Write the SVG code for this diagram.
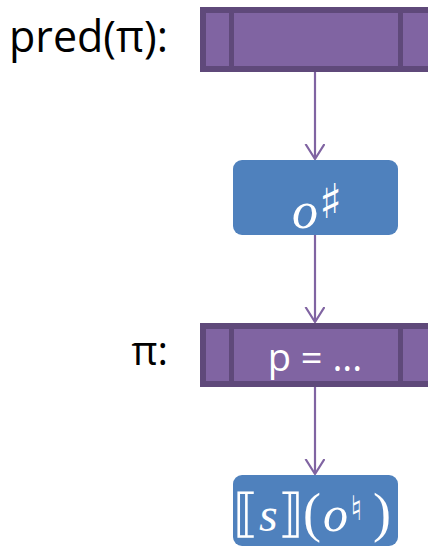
<svg xmlns="http://www.w3.org/2000/svg" width="428" height="548" viewBox="0 0 428 548">
<style>
.bar{fill:#8064A2;stroke:#5F497A;stroke-width:6}
.div{fill:#5F497A}
.blue{fill:#4F81BD}
.lbl{font-family:"Open Sans","Liberation Sans",sans-serif;fill:#000}
.wt{font-family:"Open Sans","Liberation Sans",sans-serif;fill:#fff}
.math{font-family:"Liberation Serif","DejaVu Serif",serif;fill:#fff}
.edge{stroke:#8064A2;stroke-width:2.2;fill:none}
</style>
<defs>
<marker id="arr" markerWidth="18" markerHeight="22" refX="15" refY="10" orient="auto" markerUnits="userSpaceOnUse" viewBox="0 0 18 22">
<path d="M0,0.5 L15,10 L0,19.5" fill="none" stroke="#8064A2" stroke-width="2.2"/>
</marker>
</defs>
<g id="connectors">
<path class="edge" d="M315,72 V159" marker-end="url(#arr)"/>
<path class="edge" d="M315,235 V322" marker-end="url(#arr)"/>
<path class="edge" d="M315,387 V474" marker-end="url(#arr)"/>
</g>
<g id="pred">
<text class="lbl" x="168" y="52" font-size="43" text-anchor="end">pred(π):</text>
<rect class="bar" x="203" y="10" width="240" height="59"/>
<rect class="div" x="229" y="10" width="5" height="59"/>
<rect class="div" x="398" y="10" width="5" height="59"/>
</g>
<g id="osharp">
<rect class="blue" x="233" y="160" width="165" height="75" rx="9"/>
<text class="math" font-size="52"><tspan x="292" y="228" font-style="italic">o</tspan><tspan x="319" y="218" font-size="48" font-family="DejaVu Serif">♯</tspan></text>
</g>
<g id="pi">
<text class="lbl" x="168" y="365" font-size="40" text-anchor="end" font-family="Liberation Serif">π:</text>
<rect class="bar" x="203" y="326" width="240" height="58"/>
<rect class="div" x="229" y="326" width="5" height="58"/>
<rect class="div" x="398" y="326" width="5" height="58"/>
<text class="wt" x="315" y="371" font-size="38" text-anchor="middle">p = ...</text>
</g>
<g id="result">
<rect class="blue" x="233" y="475" width="165" height="71" rx="9"/>
<text class="math" font-size="52" y="531"><tspan x="233" y="531" font-family="DejaVu Serif">⟦</tspan><tspan x="259" y="531" font-style="italic" font-size="48">s</tspan><tspan x="278" y="531" font-family="DejaVu Serif">⟧</tspan><tspan x="303" y="531" font-size="54">(</tspan><tspan x="323" y="531" font-style="italic" font-size="50">o</tspan><tspan x="350" y="520" font-size="34" font-family="DejaVu Serif">♮</tspan><tspan x="373" y="531" font-size="54">)</tspan></text>
</g>
</svg>
